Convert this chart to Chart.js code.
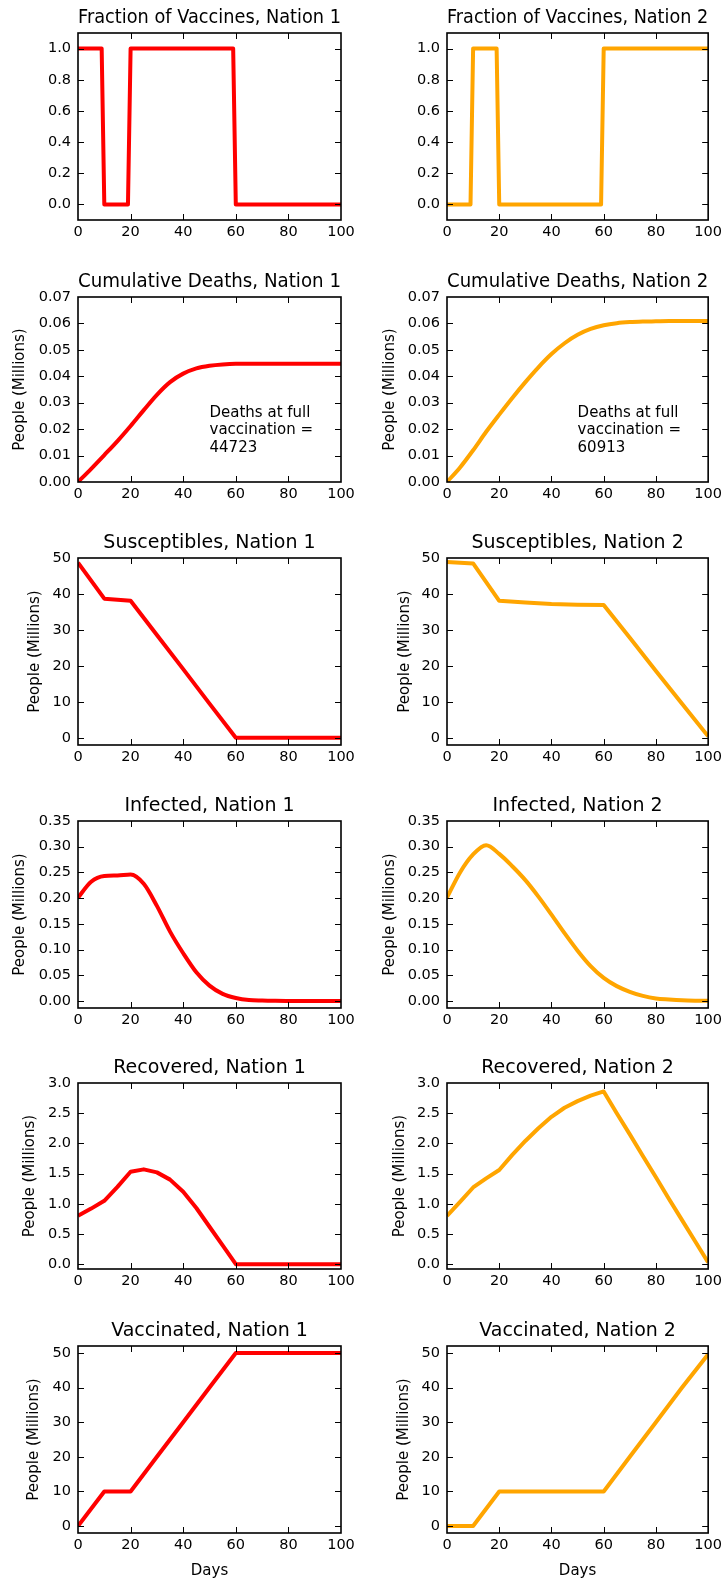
<!DOCTYPE html>
<html><head><meta charset="utf-8">
<script src="https://cdn.jsdelivr.net/npm/chart.js@4.4.1/dist/chart.umd.min.js"></script>
<style>
html,body{margin:0;padding:0;background:#fff;}
#wrap{position:relative;width:726px;height:1583px;overflow:hidden;background:#fff;}
canvas{position:absolute;}
</style></head><body><div id="wrap"></div>
<script>
// ---------- DATA ----------
const fracDays = [0, 9, 10, 19, 20, 59, 60, 100];
const fracN1 = [1, 1, 0, 0, 1, 1, 0, 0];
const fracN2 = [0, 0, 1, 1, 0, 0, 1, 1];

const days5 = [0,5,10,15,20,25,30,35,40,45,50,55,60,65,70,75,80,85,90,95,100];
const deathsN1 = [0, 0.0050, 0.0102, 0.0155, 0.0212, 0.0272, 0.0330, 0.0378, 0.0410, 0.0430, 0.0440, 0.0445, 0.0447, 0.0447, 0.0447, 0.0447, 0.0447, 0.0447, 0.0447, 0.0447, 0.0447];
const deathsN2 = [0, 0.0055, 0.0120, 0.0190, 0.0255, 0.0318, 0.0378, 0.0434, 0.0484, 0.0525, 0.0557, 0.0579, 0.0593, 0.0601, 0.0605, 0.0607, 0.0608, 0.0609, 0.0609, 0.0609, 0.0609];
const infN1 = [0.201, 0.232, 0.243, 0.244, 0.246, 0.228, 0.185, 0.135, 0.093, 0.056, 0.030, 0.014, 0.006, 0.002, 0.001, 0.0005, 0.0003, 0.0002, 0.0001, 0.0001, 0.0000];
const infN2 = [0.201, 0.250, 0.285, 0.303, 0.286, 0.262, 0.235, 0.203, 0.168, 0.132, 0.098, 0.068, 0.045, 0.029, 0.018, 0.010, 0.005, 0.003, 0.0015, 0.0008, 0.0005];
const recN1 = [0.80, 0.92, 1.05, 1.28, 1.53, 1.57, 1.52, 1.40, 1.20, 0.93, 0.62, 0.31, 0.00, 0, 0, 0, 0, 0, 0, 0, 0];
const recN2 = [0.80, 1.03, 1.27, 1.42, 1.56, 1.81, 2.04, 2.25, 2.44, 2.59, 2.70, 2.79, 2.86, 2.50, 2.15, 1.79, 1.44, 1.08, 0.73, 0.38, 0.03];

const days10 = [0,10,20,30,40,50,60,70,80,90,100];
const suscN1 = [48.7, 38.7, 38.1, 28.6, 19.1, 9.5, 0, 0, 0, 0, 0];
const suscN2 = [48.9, 48.5, 38.1, 37.6, 37.2, 37.0, 36.9, 27.8, 18.6, 9.5, 0.4];
const vaccN1 = [0, 10, 10, 20, 30, 40, 50, 50, 50, 50, 50];
const vaccN2 = [0, 0, 10, 10, 10, 10, 10, 20, 30, 40, 49.6];

const xTicks = [0, 20, 40, 60, 80, 100];
const fracTicks = [0.0, 0.2, 0.4, 0.6, 0.8, 1.0];
const deathTicks = [0.00, 0.01, 0.02, 0.03, 0.04, 0.05, 0.06, 0.07];
const suscTicks = [0, 10, 20, 30, 40, 50];
const infTicks = [0.00, 0.05, 0.10, 0.15, 0.20, 0.25, 0.30, 0.35];
const recTicks = [0.0, 0.5, 1.0, 1.5, 2.0, 2.5, 3.0];
const vaccTicks = [0, 10, 20, 30, 40, 50];

const deathLabelsN1 = ['Deaths at full', 'vaccination =', '44723'];
const deathLabelsN2 = ['Deaths at full', 'vaccination =', '60913'];

// ---------- LAYOUT / STYLE ----------
const RED = '#ff0000', ORANGE = '#ffa500';
const FONT = "'DejaVu Sans', sans-serif";
const rowTop = [33, 297, 558, 821, 1083, 1346];
const rowH = [187, 185, 187, 187, 186, 187];
const labelCenter = [[null, null], [19.7, 26.7], [35, 42], [20, 26.7], [30, 36.7], [34.5, 41]];
const colLeft = [0, 363];
const plotL = [78, 84];
const padR = [22, 15];
const TITLE_H = 26;

const panels = [
  {name: 'Fraction of Vaccines', xs: fracDays, s: [fracN1, fracN2], ticks: fracTicks, dec: 1, min: -0.1, max: 1.1, ylabel: false, smooth: false},
  {name: 'Cumulative Deaths', xs: days5, s: [deathsN1, deathsN2], ticks: deathTicks, dec: 2, min: 0, max: 0.07, ylabel: true, smooth: true, annot: [deathLabelsN1, deathLabelsN2]},
  {name: 'Susceptibles', xs: days10, s: [suscN1, suscN2], ticks: suscTicks, dec: 0, min: -2, max: 50, ylabel: true, smooth: false},
  {name: 'Infected', xs: days5, s: [infN1, infN2], ticks: infTicks, dec: 2, min: -0.0135, max: 0.35, ylabel: true, smooth: true},
  {name: 'Recovered', xs: days5, s: [recN1, recN2], ticks: recTicks, dec: 1, min: -0.08, max: 3.0, ylabel: true, smooth: false},
  {name: 'Vaccinated', xs: days10, s: [vaccN1, vaccN2], ticks: vaccTicks, dec: 0, min: -2, max: 52, ylabel: true, smooth: false, xlabel: true}
];

const framePlugin = {
  id: 'frame',
  afterDraw(chart, args, opts) {
    const {ctx, chartArea: a, scales: {x, y}} = chart;
    ctx.save();
    ctx.strokeStyle = '#000';
    ctx.lineWidth = 1;
    ctx.beginPath();
    x.ticks.forEach(t => {
      const px = Math.round(x.getPixelForValue(t.value)) + 0.5;
      if (px <= a.left + 1 || px >= a.right - 1) return;
      ctx.moveTo(px, a.bottom); ctx.lineTo(px, a.bottom - 6);
      ctx.moveTo(px, a.top); ctx.lineTo(px, a.top + 6);
    });
    y.ticks.forEach(t => {
      const py = Math.round(y.getPixelForValue(t.value)) + 0.5;
      if (py <= a.top + 1 || py >= a.bottom - 1) return;
      ctx.moveTo(a.left, py); ctx.lineTo(a.left + 6, py);
      ctx.moveTo(a.right, py); ctx.lineTo(a.right - 6, py);
    });
    ctx.stroke();
    ctx.lineWidth = 1.6;
    ctx.strokeRect(a.left, a.top, a.right - a.left, a.bottom - a.top);
    if (opts && opts.annot) {
      ctx.fillStyle = '#000';
      ctx.font = '15px ' + FONT;
      ctx.textAlign = 'left';
      ctx.textBaseline = 'alphabetic';
      const ax = x.getPixelForValue(opts.ax);
      const ay = y.getPixelForValue(opts.ay);
      const n = opts.annot.length;
      opts.annot.forEach((line, i) => {
        ctx.fillText(line, ax, ay - (n - 1 - i) * 17.3);
      });
    }
    ctx.restore();
  }
};

const wrap = document.getElementById('wrap');
panels.forEach((p, r) => {
  [0, 1].forEach(c => {
    const xH = p.xlabel ? 48 : 26;
    const cv = document.createElement('canvas');
    const W = 363;
    const H = TITLE_H + rowH[r] + xH;
    cv.width = W; cv.height = H;
    cv.style.left = colLeft[c] + 'px';
    cv.style.top = (rowTop[r] - TITLE_H) + 'px';
    cv.style.width = W + 'px'; cv.style.height = H + 'px';
    wrap.appendChild(cv);
    const padLeft = p.ylabel ? labelCenter[r][c] - 9 : 0;
    const yWidth = plotL[c] - padLeft;
    const color = c === 0 ? RED : ORANGE;
    const pts = p.xs.map((d, i) => ({x: d, y: p.s[c][i]}));
    new Chart(cv, {
      type: 'line',
      data: {
        datasets: [{
          data: pts,
          borderColor: color,
          backgroundColor: color,
          borderWidth: 4,
          pointRadius: 0,
          fill: false,
          tension: 0,
          cubicInterpolationMode: p.smooth ? 'monotone' : 'default',
          borderJoinStyle: 'round',
          borderCapStyle: 'butt'
        }]
      },
      options: {
        responsive: false,
        animation: false,
        events: [],
        layout: {padding: {left: padLeft, right: padR[c], top: 0, bottom: 0}},
        plugins: {
          legend: {display: false},
          tooltip: {enabled: false},
          title: {
            display: true,
            text: p.name + ', Nation ' + (c + 1),
            color: '#000',
            fullSize: false,
            font: {family: FONT, size: 19, weight: 'normal', lineHeight: '22px'},
            padding: {top: 0, bottom: 4}
          },
          frame: p.annot ? {annot: p.annot[c], ax: 50, ay: 0.0115} : {}
        },
        scales: {
          x: {
            type: 'linear',
            min: 0, max: 100,
            afterBuildTicks: s => { s.ticks = xTicks.map(v => ({value: v})); },
            afterFit: s => { s.height = xH; },
            grid: {display: false, drawTicks: false},
            border: {display: false},
            ticks: {
              color: '#000', padding: 4, autoSkip: false, maxRotation: 0,
              font: {family: FONT, size: 14.5},
              callback: v => String(v)
            },
            title: {
              display: !!p.xlabel, text: 'Days', color: '#000',
              font: {family: FONT, size: 15}, padding: {top: 0, bottom: 1}
            }
          },
          y: {
            type: 'linear',
            min: p.min, max: p.max,
            afterBuildTicks: s => { s.ticks = p.ticks.map(v => ({value: v})); },
            afterFit: s => { s.width = yWidth; },
            grid: {display: false, drawTicks: false},
            border: {display: false},
            ticks: {
              color: '#000', padding: 7, autoSkip: false,
              font: {family: FONT, size: 14.5},
              callback: v => Number(v).toFixed(p.dec)
            },
            title: {
              display: p.ylabel, text: 'People (Millions)', color: '#000',
              font: {family: FONT, size: 15}, padding: {top: 0, bottom: 0}
            }
          }
        }
      },
      plugins: [framePlugin]
    });
  });
});
</script></body></html>
